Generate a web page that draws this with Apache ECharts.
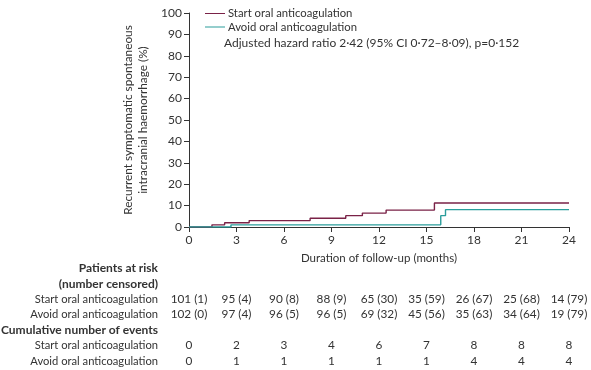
<!DOCTYPE html>
<html><head><meta charset="utf-8">
<script src="https://cdn.jsdelivr.net/npm/echarts@6/dist/echarts.min.js"></script>
<style>html,body{margin:0;padding:0;background:#fff}#c{width:591px;height:370px}</style>
</head><body><div id="c"></div>
<script>
var seriesNames = ['Start oral anticoagulation', 'Avoid oral anticoagulation'];
// [month, cumulative %]
var startCurve = [[0,0],[1.45,1.0],[2.25,2.0],[3.8,3.0],[7.65,4.1],[9.9,5.3],[10.95,6.5],[12.45,7.9],[15.5,11.2],[24,11.2]];
var avoidCurve = [[0,0],[2.65,1.0],[15.9,5.3],[16.2,8.1],[24,8.1]];
var tickMonths = [0,3,6,9,12,15,18,21,24];
var riskStart = ['101 (1)','95 (4)','90 (8)','88 (9)','65 (30)','35 (59)','26 (67)','25 (68)','14 (79)'];
var riskAvoid = ['102 (0)','97 (4)','96 (5)','96 (5)','69 (32)','45 (56)','35 (63)','34 (64)','19 (79)'];
var eventsStart = [0,2,3,4,6,7,8,8,8];
var eventsAvoid = [0,1,1,1,1,1,4,4,4];
var hrText = 'Adjusted hazard ratio 2·42 (95% CI 0·72–8·09), p=0·152';

var FONT = 'Lato';
var TXT = '#333';
var colors = ['#7a2247', '#2a9d9b'];

var chart = echarts.init(document.getElementById('c'), null, {renderer:'canvas'});
var option = {
  animation: false,
  textStyle: {fontFamily: FONT},
  grid: {left: 189, right: 22, top: 13, bottom: 143, containLabel: false},
  legend: {
    data: seriesNames, orient: 'vertical', left: 200, top: 3, itemGap: 2.5,
    itemWidth: 20, itemHeight: 1, icon: 'rect',
    textStyle: {fontFamily: FONT, fontSize: 11.3, color: TXT, padding: [0,0,0,-2]}
  },
  xAxis: {
    type: 'value', min: 0, max: 24, interval: 3,
    name: 'Duration of follow-up (months)', nameLocation: 'middle', nameGap: 25,
    nameTextStyle: {fontFamily: FONT, fontSize: 11.5, color: TXT},
    axisLine: {lineStyle: {color: '#333', width: 1}},
    axisTick: {show: true, length: 5, lineStyle: {color: '#333'}},
    axisLabel: {fontFamily: FONT, fontSize: 12, color: TXT, margin: 7},
    splitLine: {show: false}
  },
  yAxis: {
    type: 'value', min: 0, max: 100, interval: 10,
    name: 'Recurrent symptomatic spontaneous\nintracranial haemorrhage (%)',
    nameLocation: 'middle', nameGap: 28, nameRotate: 90,
    nameTextStyle: {fontFamily: FONT, fontSize: 11.8, color: TXT, lineHeight: 15},
    axisLine: {show: true, lineStyle: {color: '#333', width: 1}},
    axisTick: {show: true, length: 5, lineStyle: {color: '#333'}},
    axisLabel: {fontFamily: FONT, fontSize: 12, color: TXT, margin: 7},
    splitLine: {show: false}
  },
  series: [
    {name: seriesNames[0], type: 'line', step: 'end', data: startCurve, showSymbol: false, symbol: 'none',
     lineStyle: {color: colors[0], width: 1.4}, itemStyle: {color: colors[0]}},
    {name: seriesNames[1], type: 'line', step: 'end', data: avoidCurve, showSymbol: false, symbol: 'none',
     lineStyle: {color: colors[1], width: 1.4}, itemStyle: {color: colors[1]}}
  ]
};
chart.setOption(option);

var els = [];
els.push({type:'text', x: 224, y: 43, style:{text: hrText, font: '12px ' + FONT, fill: TXT, textVerticalAlign:'middle'}});
var labelRight = 158;
function rowLabel(txt, y, bold) {
  els.push({type:'text', x: labelRight, y: y, style:{text: txt, font: bold ? ('bold 12px ' + FONT) : ('11.2px ' + FONT), fill: TXT, textAlign:'right', textVerticalAlign:'middle'}});
}
rowLabel('Patients at risk', 268, true);
rowLabel('(number censored)', 284, true);
rowLabel(seriesNames[0], 299, false);
rowLabel(seriesNames[1], 314.5, false);
rowLabel('Cumulative number of events', 330.5, true);
rowLabel(seriesNames[0], 345.5, false);
rowLabel(seriesNames[1], 361, false);
function rowVals(vals, y) {
  vals.forEach(function(v, i){
    var px = chart.convertToPixel({xAxisIndex:0}, tickMonths[i]);
    els.push({type:'text', x: px, y: y, style:{text: String(v), font: '11.8px ' + FONT, fill: TXT, textAlign:'center', textVerticalAlign:'middle'}});
  });
}
rowVals(riskStart, 299);
rowVals(riskAvoid, 314.5);
rowVals(eventsStart, 345.5);
rowVals(eventsAvoid, 361);
chart.setOption({graphic: {elements: els}});
</script></body></html>
